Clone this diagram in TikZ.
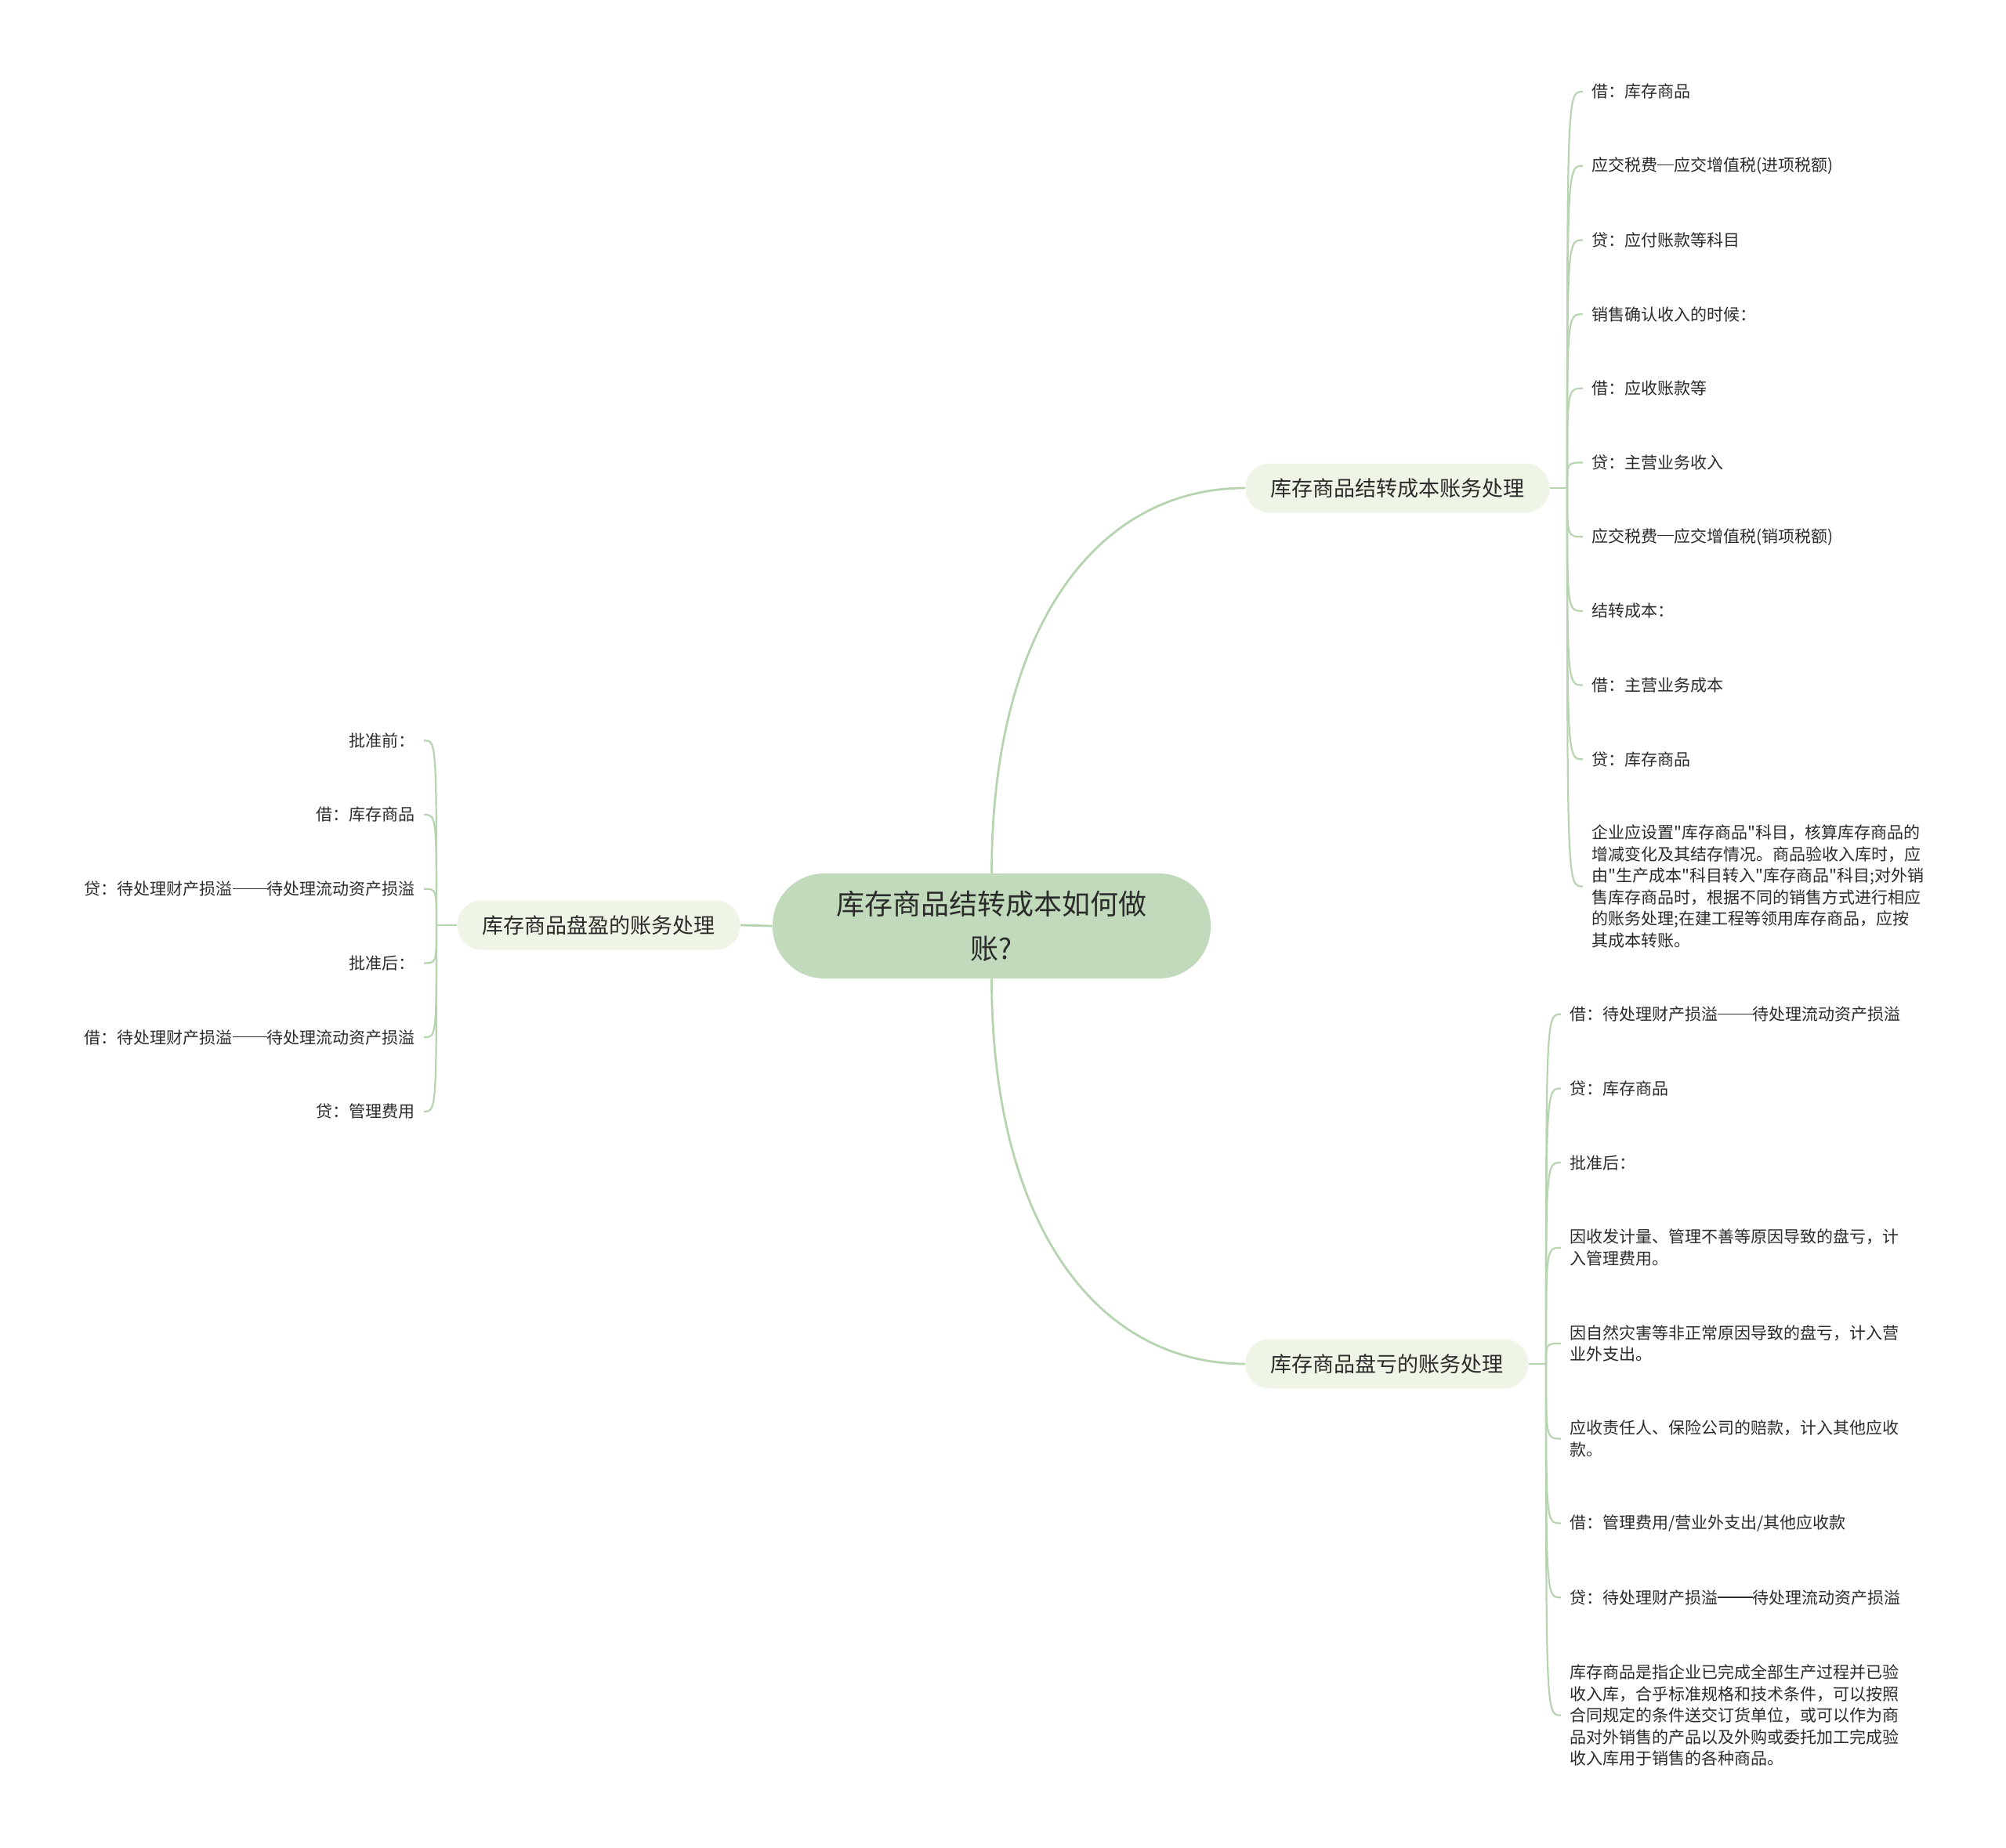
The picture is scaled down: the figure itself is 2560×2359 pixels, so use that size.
\documentclass[tikz,border=0pt]{standalone}
\usepackage{fontspec}
\setmainfont{Noto Sans CJK SC}[Ligatures=TeXOff]
\definecolor{rootfill}{HTML}{C0DABB}
\definecolor{branchfill}{HTML}{EEF4E6}
\definecolor{linkgreen}{HTML}{B7D4B0}
\definecolor{inktext}{HTML}{2B2B2B}
\newcommand\cjkdash[1]{\rule[0.36em]{#1em}{0.06em}}
\begin{document}
\begin{tikzpicture}[x=0.5pt,y=-0.5pt,
    rootbox/.style={fill=rootfill, rounded corners=33pt, minimum width=279.5pt, minimum height=67pt,
        align=center, text=inktext, font=\fontsize{18}{28.5}\selectfont},
    branchbox/.style={fill=branchfill, rounded corners=15.5pt, minimum height=31.5pt, inner xsep=16pt,
        text=inktext, font=\fontsize{13.5}{16}\selectfont},
    leafr/.style={anchor=west, inner xsep=5.5pt, inner ysep=1pt, align=left, text=inktext,
        font=\fontsize{10.5}{13.75}\selectfont},
    leafl/.style={leafr, anchor=east, align=right},
    link/.style={draw=linkgreen, line width=1.4pt},
    twig/.style={draw=linkgreen, line width=1.1pt}]

    \useasboundingbox (0,0) rectangle (2560,2359);

    \node[rootbox] (root) at (1265.5,1182) {库存商品结转成本如何做\\账?};
    \node[branchbox, anchor=west] (rt) at (1589,623) {库存商品结转成本账务处理};
    \node[branchbox, anchor=west] (rb) at (1589,1741) {库存商品盘亏的账务处理};
    \node[branchbox, anchor=east] (lb) at (945,1181) {库存商品盘盈的账务处理};

    \draw[link] (root.north) .. controls +(0,-310) and +(-192,0) .. (rt.west);
    \draw[link] (root.south) .. controls +(0,310) and +(-192,0) .. (rb.west);
    \draw[link] (root.west) -- (lb.east);

    \coordinate (jt) at (2000,623);
    \coordinate (jb) at (1973,1741);
    \coordinate (jl) at (557,1181);
    \draw[twig] (rt.east) -- (jt);
    \draw[twig] (rb.east) -- (jb);
    \draw[twig] (lb.west) -- (jl);

    \node[leafr] (t1) at (2020,117) {借：库存商品};
    \node[leafr] (t2) at (2020,211.7) {应交税费\cjkdash{1}应交增值税(进项税额)};
    \node[leafr] (t3) at (2020,306.4) {贷：应付账款等科目};
    \node[leafr] (t4) at (2020,401.1) {销售确认收入的时候：};
    \node[leafr] (t5) at (2020,495.8) {借：应收账款等};
    \node[leafr] (t6) at (2020,590.5) {贷：主营业务收入};
    \node[leafr] (t7) at (2020,685.2) {应交税费\cjkdash{1}应交增值税(销项税额)};
    \node[leafr] (t8) at (2020,779.9) {结转成本：};
    \node[leafr] (t9) at (2020,874.6) {借：主营业务成本};
    \node[leafr] (t10) at (2020,969.3) {贷：库存商品};
    \node[leafr] (t11) at (2020,1131.5) {企业应设置"库存商品"科目，核算库存商品的\\增减变化及其结存情况。商品验收入库时，应\\由"生产成本"科目转入"库存商品"科目;对外销\\售库存商品时，根据不同的销售方式进行相应\\的账务处理;在建工程等领用库存商品，应按\\其成本转账。};

    \draw[twig] (jt) .. controls (jt |- t1.west) .. (t1.west);
    \draw[twig] (jt) .. controls (jt |- t2.west) .. (t2.west);
    \draw[twig] (jt) .. controls (jt |- t3.west) .. (t3.west);
    \draw[twig] (jt) .. controls (jt |- t4.west) .. (t4.west);
    \draw[twig] (jt) .. controls (jt |- t5.west) .. (t5.west);
    \draw[twig] (jt) .. controls (jt |- t6.west) .. (t6.west);
    \draw[twig] (jt) .. controls (jt |- t7.west) .. (t7.west);
    \draw[twig] (jt) .. controls (jt |- t8.west) .. (t8.west);
    \draw[twig] (jt) .. controls (jt |- t9.west) .. (t9.west);
    \draw[twig] (jt) .. controls (jt |- t10.west) .. (t10.west);
    \draw[twig] (jt) .. controls (jt |- t11.west) .. (t11.west);

    \node[leafr] (b1) at (1992,1294.7) {借：待处理财产损溢\cjkdash{2.1}待处理流动资产损溢};
    \node[leafr] (b2) at (1992,1389.4) {贷：库存商品};
    \node[leafr] (b3) at (1992,1484.1) {批准后：};
    \node[leafr] (b4) at (1992,1592.7) {因收发计量、管理不善等原因导致的盘亏，计\\入管理费用。};
    \node[leafr] (b5) at (1992,1715) {因自然灾害等非正常原因导致的盘亏，计入营\\业外支出。};
    \node[leafr] (b6) at (1992,1836.5) {应收责任人、保险公司的赔款，计入其他应收\\款。};
    \node[leafr] (b7) at (1992,1944.5) {借：管理费用/营业外支出/其他应收款};
    \node[leafr] (b8) at (1992,2039.2) {贷：待处理财产损溢\cjkdash{2.1}待处理流动资产损溢};
    \node[leafr] (b9) at (1992,2189.5) {库存商品是指企业已完成全部生产过程并已验\\收入库，合乎标准规格和技术条件，可以按照\\合同规定的条件送交订货单位，或可以作为商\\品对外销售的产品以及外购或委托加工完成验\\收入库用于销售的各种商品。};

    \draw[twig] (jb) .. controls (jb |- b1.west) .. (b1.west);
    \draw[twig] (jb) .. controls (jb |- b2.west) .. (b2.west);
    \draw[twig] (jb) .. controls (jb |- b3.west) .. (b3.west);
    \draw[twig] (jb) .. controls (jb |- b4.west) .. (b4.west);
    \draw[twig] (jb) .. controls (jb |- b5.west) .. (b5.west);
    \draw[twig] (jb) .. controls (jb |- b6.west) .. (b6.west);
    \draw[twig] (jb) .. controls (jb |- b7.west) .. (b7.west);
    \draw[twig] (jb) .. controls (jb |- b8.west) .. (b8.west);
    \draw[twig] (jb) .. controls (jb |- b9.west) .. (b9.west);

    \node[leafl] (l1) at (541,945.3) {批准前：};
    \node[leafl] (l2) at (541,1040) {借：库存商品};
    \node[leafl] (l3) at (541,1134.7) {贷：待处理财产损溢\cjkdash{2.1}待处理流动资产损溢};
    \node[leafl] (l4) at (541,1229.4) {批准后：};
    \node[leafl] (l5) at (541,1324.1) {借：待处理财产损溢\cjkdash{2.1}待处理流动资产损溢};
    \node[leafl] (l6) at (541,1418.8) {贷：管理费用};

    \draw[twig] (jl) .. controls (jl |- l1.east) .. (l1.east);
    \draw[twig] (jl) .. controls (jl |- l2.east) .. (l2.east);
    \draw[twig] (jl) .. controls (jl |- l3.east) .. (l3.east);
    \draw[twig] (jl) .. controls (jl |- l4.east) .. (l4.east);
    \draw[twig] (jl) .. controls (jl |- l5.east) .. (l5.east);
    \draw[twig] (jl) .. controls (jl |- l6.east) .. (l6.east);
\end{tikzpicture}
\end{document}
